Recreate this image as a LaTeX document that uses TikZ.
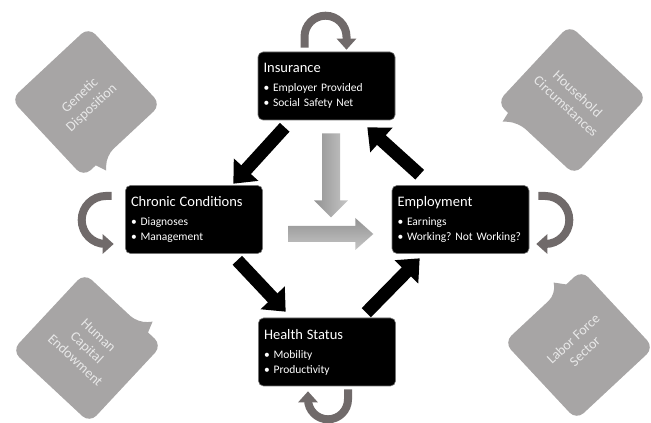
\documentclass[tikz,border=0pt]{standalone}
\usepackage{fontspec}
\setmainfont{Carlito}
\usetikzlibrary{arrows.meta}

\definecolor{loopgray}{HTML}{706A6A}
\definecolor{notegray}{HTML}{A7A5A5}
\definecolor{notewhite}{HTML}{E8E8E8}
\definecolor{shadedark}{HTML}{929292}
\definecolor{shadelight}{HTML}{C6C6C6}

\newcommand{\boxhead}[1]{{\fontsize{14.5}{17}\selectfont #1\par}\vspace{4pt}}

\tikzset{
  box/.style={draw=black!55, line width=0.6pt, fill=black, text=white, rounded corners=5pt,
    minimum width=137pt, minimum height=68pt, text width=126pt, inner xsep=5.5pt, inner ysep=0pt,
    align=left, font=\fontsize{11.5}{15}\selectfont\frenchspacing},
  blkarrow/.style={line width=13pt, -{Triangle[width=32pt,length=19pt]}},
  looparrow/.style={draw=loopgray, line width=8pt, -{Triangle[width=19pt,length=11pt]}},
  note/.style={fill=notegray, rounded corners=10pt},
  notetext/.style={text=notewhite, align=center, font=\fontsize{14}{17}\selectfont, transform shape},
}

\begin{document}
\begin{tikzpicture}[x=1pt, y=1pt]
  \useasboundingbox (0,0) rectangle (651,423);

  \node[box] (ins) at (326.5,337) {\boxhead{Insurance}%
    • Employer Provided\par • Social Safety Net};
  \node[box] (chr) at (194,203.5) {\boxhead{Chronic Conditions}%
    • Diagnoses\par • Management};
  \node[box] (emp) at (460.5,203.5) {\boxhead{Employment}%
    • Earnings\par • Working? Not Working?};
  \node[box] (hea) at (327,71) {\boxhead{Health Status}%
    • Mobility\par • Productivity};

  \draw[blkarrow] ([xshift=27pt,yshift=-7pt]ins.south west) -- ([xshift=-29.5pt,yshift=1.5pt]chr.north east);
  \draw[blkarrow] ([xshift=28pt,yshift=10.5pt]emp.north west) -- ([xshift=-28pt,yshift=-7pt]ins.south east);
  \draw[blkarrow] ([xshift=-25.5pt,yshift=-6.5pt]chr.south east) -- ([xshift=27.5pt,yshift=6pt]hea.north west);
  \draw[blkarrow] ([xshift=-29.5pt,yshift=5pt]hea.north east) -- ([xshift=28pt,yshift=-4.5pt]emp.south west);

  \shade[left color=shadedark, right color=shadelight] ([xshift=-4.5pt,yshift=-13pt]ins.south)
    -- ++(18,0) -- ++(0,-67) -- ++(8,0) -- ++(-17,-17) -- ++(-17,17) -- ++(8,0) -- cycle;
  \shade[top color=shadedark, bottom color=shadelight] ([xshift=25.5pt,yshift=-6.5pt]chr.east)
    -- ++(67,0) -- ++(0,8) -- ++(18,-16) -- ++(-18,-16) -- ++(0,8) -- ++(-67,0) -- cycle;

  \draw[looparrow] ([xshift=-22pt,yshift=4pt]ins.north) -- ++(0,11) arc[start angle=180, end angle=0, radius=21pt] -- ++(0,-13);
  \draw[looparrow] ([xshift=-13.5pt,yshift=23.5pt]chr.west) -- ++(-6,0) arc[start angle=90, end angle=270, radius=24pt] -- ++(8,0);
  \draw[looparrow] ([xshift=9pt,yshift=23.5pt]emp.east) -- ++(7,0) arc[start angle=90, end angle=-90, radius=24pt] -- ++(-9,0);
  \draw[looparrow] ([xshift=21pt,yshift=-3pt]hea.south) -- ++(0,-10) arc[start angle=0, end angle=-180, radius=20pt] -- ++(0,8);

  \begin{scope}[shift={(86,321)}, rotate=43]
    \fill[note] (-53,0) -- (-53,53) -- (53,53) -- (53,-53) -- (-22,-53) [sharp corners] -- (-32,-64) -- (-36,-53) [rounded corners=10pt] -- (-53,-53) -- cycle;
    \node[notetext] (gen) at (0,0) {Genetic\\Disposition};
  \end{scope}
  \begin{scope}[shift={(572,323)}, rotate=-43]
    \fill[note] (-53,0) -- (-53,53) -- (53,53) -- (53,-53) -- (-24,-53) [sharp corners] -- (-36,-63) -- (-38,-53) [rounded corners=10pt] -- (-53,-53) -- cycle;
    \node[notetext] (hou) at (0,0) {Household\\Circumstances};
  \end{scope}
  \begin{scope}[shift={(87,75)}, rotate=-43]
    \fill[note] (-53,0) -- (-53,53) -- (20,53) [sharp corners] -- (30,64) -- (34,53) [rounded corners=10pt] -- (53,53) -- (53,-53) -- (-53,-53) -- cycle;
    \node[notetext] (hum) at (0,0) {Human\\Capital\\Endowment};
  \end{scope}
  \begin{scope}[shift={(579,78)}, rotate=43]
    \fill[note] (-53,0) -- (-53,53) -- (18,53) [sharp corners] -- (24,63) -- (32,53) [rounded corners=10pt] -- (53,53) -- (53,-53) -- (-53,-53) -- cycle;
    \node[notetext] (lab) at (0,0) {Labor Force\\Sector};
  \end{scope}
\end{tikzpicture}
\end{document}
